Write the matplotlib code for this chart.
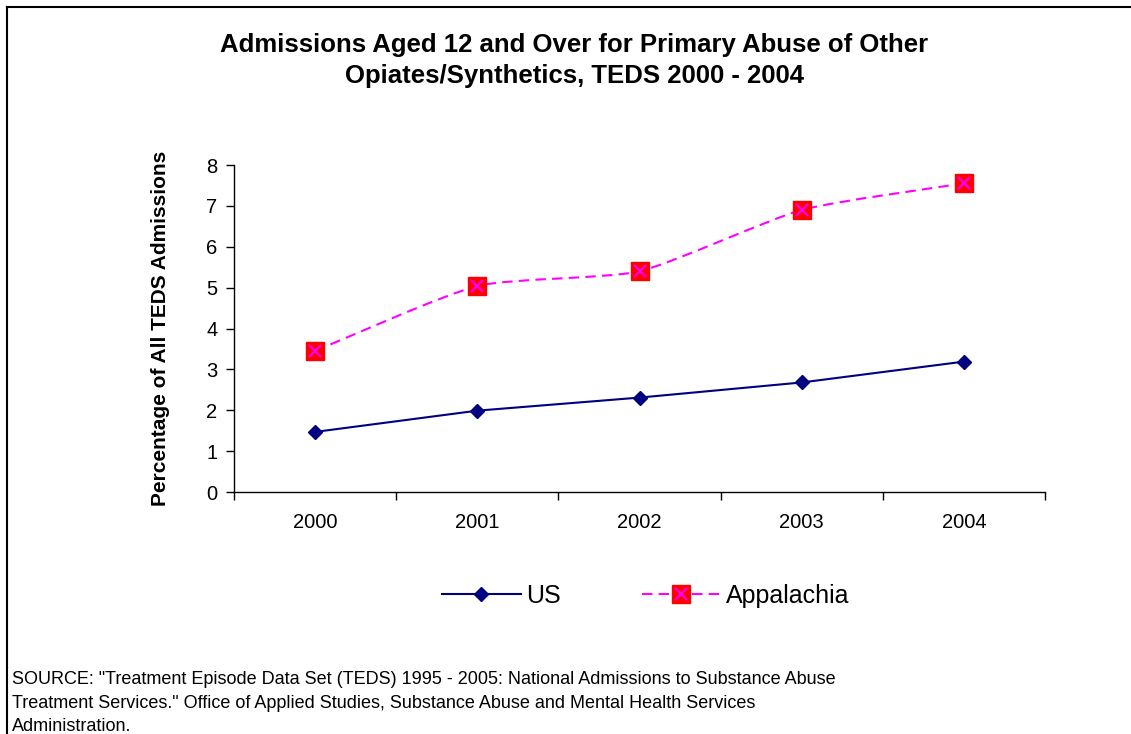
import matplotlib

matplotlib.use("Agg")
import matplotlib.pyplot as plt
import numpy as np
from matplotlib.legend_handler import HandlerTuple
from matplotlib.lines import Line2D
from matplotlib.patches import PathPatch
from matplotlib.path import Path

plt.rcParams["font.family"] = ["Liberation Sans", "DejaVu Sans"]

YEARS = ["2000", "2001", "2002", "2003", "2004"]
US = [1.47, 1.99, 2.31, 2.68, 3.19]
APPALACHIA = [3.45, 5.04, 5.40, 6.90, 7.55]

TITLE = "Admissions Aged 12 and Over for Primary Abuse of Other\nOpiates/Synthetics, TEDS 2000 - 2004"
YLABEL = "Percentage of All TEDS Admissions"
SOURCE = (
    "SOURCE: \"Treatment Episode Data Set (TEDS) 1995 - 2005: National Admissions to Substance Abuse\n"
    "Treatment Services.\" Office of Applied Studies, Substance Abuse and Mental Health Services\n"
    "Administration."
)

NAVY = "#000080"
MAGENTA = "#FF00FF"
RED = "#FF0000"


def smooth_path(xs, ys, k=10.0):
    # cubic Bezier through the points, tangents from neighbours (smoothed line)
    pts = np.column_stack([xs, ys]).astype(float)
    verts = [pts[0]]
    codes = [Path.MOVETO]
    n = len(pts)
    for i in range(n - 1):
        p0 = pts[max(i - 1, 0)]
        p1 = pts[i]
        p2 = pts[i + 1]
        p3 = pts[min(i + 2, n - 1)]
        c1 = p1 + (p2 - p0) / k
        c2 = p2 - (p3 - p1) / k
        verts += [c1, c2, p2]
        codes += [Path.CURVE4] * 3
    return Path(verts, codes)


fig = plt.figure(figsize=(11.31, 7.34), dpi=100)
ax = fig.add_axes([0.2069, 0.3297, 0.7171, 0.4455])

x = np.arange(len(YEARS))

ax.plot(x, US, color=NAVY, linewidth=1.5, marker="D", markersize=7.5,
        markerfacecolor=NAVY, markeredgecolor=NAVY, zorder=3)

curve = PathPatch(smooth_path(x, APPALACHIA), facecolor="none", edgecolor=MAGENTA,
                  linewidth=1.5, linestyle=(0, (5, 3)), zorder=3)
ax.add_patch(curve)
ax.plot(x, APPALACHIA, linestyle="none", marker="s", markersize=13,
        markerfacecolor=RED, markeredgecolor=RED, zorder=4)
ax.plot(x, APPALACHIA, linestyle="none", marker="x", markersize=9,
        markeredgecolor=MAGENTA, markeredgewidth=1.5, zorder=5)

ax.set_xlim(-0.5, len(YEARS) - 0.5)
ax.set_ylim(0, 8)
ax.set_yticks(range(0, 9))
ax.set_xticks(np.arange(-0.5, len(YEARS)), minor=False)
ax.set_xticklabels([])
ax.set_xticks(x, minor=True)
ax.set_xticklabels(YEARS, minor=True)
ax.tick_params(axis="x", which="major", direction="out", length=6, width=1, color="black")
ax.tick_params(axis="x", which="minor", length=0, pad=15, labelsize=14.5)
ax.tick_params(axis="y", direction="out", length=6, width=1, labelsize=14.5, pad=6)

for side in ("top", "right"):
    ax.spines[side].set_visible(False)
for side in ("left", "bottom"):
    ax.spines[side].set_linewidth(1)

ax.set_ylabel(YLABEL, fontsize=15, fontweight="bold", labelpad=26)

fig.text(0.508, 0.918, TITLE, ha="center", va="center", fontsize=18.5,
         fontweight="bold", linespacing=1.38)

us_handle = Line2D([], [], color=NAVY, linewidth=1.5, marker="D", markersize=7.5,
                   markerfacecolor=NAVY, markeredgecolor=NAVY)
app_line = Line2D([], [], color=MAGENTA, linewidth=1.5, linestyle=(0, (5, 3)),
                  marker="s", markersize=13, markerfacecolor=RED, markeredgecolor=RED)
app_cross = Line2D([], [], linestyle="none", marker="x", markersize=9,
                   markeredgecolor=MAGENTA, markeredgewidth=1.5)
fig.legend([us_handle, (app_line, app_cross)], ["US", "Appalachia"],
           handler_map={tuple: HandlerTuple(ndivide=1, pad=0)},
           loc="center", bbox_to_anchor=(0.571, 0.188), ncol=2, frameon=False,
           fontsize=18, handlelength=3.15, handletextpad=0.22, columnspacing=3.25,
           numpoints=1)

fig.text(0.011, 0.042, SOURCE, ha="left", va="center", fontsize=13, linespacing=1.5)

# frame lines along the top and left edges
fig.add_artist(Line2D([0.0062, 1.0], [0.9905, 0.9905], transform=fig.transFigure,
                      color="black", linewidth=1.5))
fig.add_artist(Line2D([0.0062, 0.0062], [0.0, 0.9905], transform=fig.transFigure,
                      color="black", linewidth=1.5))

fig.savefig("out.png", dpi=100)
